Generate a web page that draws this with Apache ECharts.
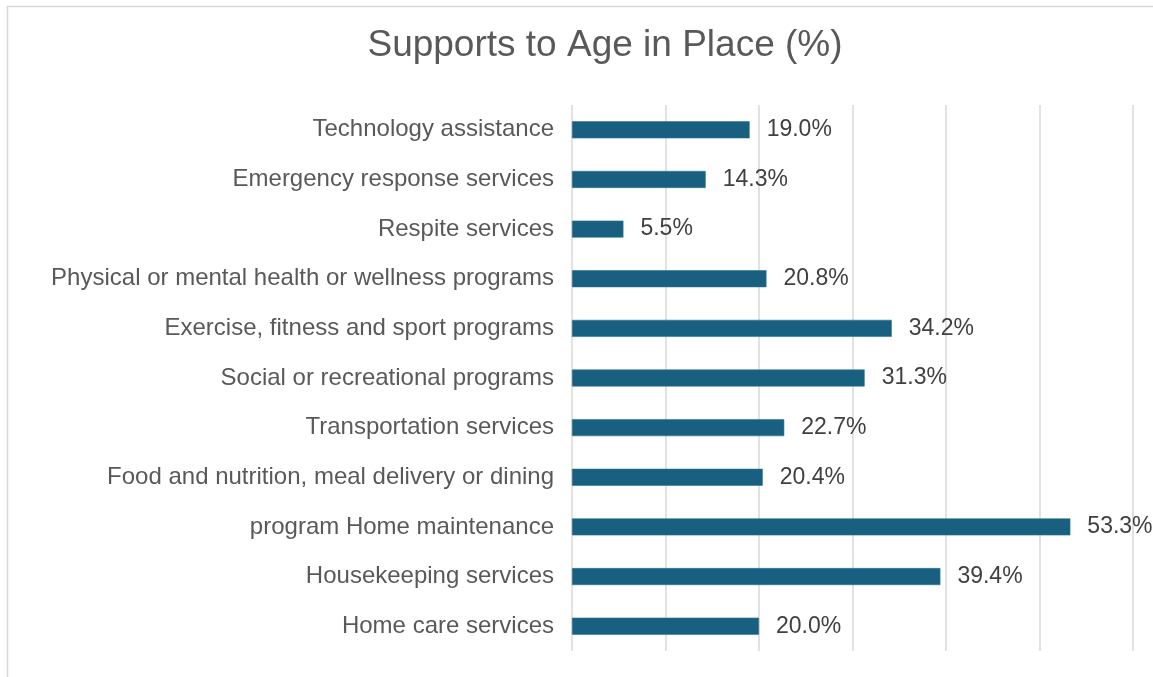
<!DOCTYPE html>
<html>
<head>
<meta charset="utf-8">
<style>
  html, body { margin: 0; padding: 0; background: #ffffff; }
  #chart { width: 1153px; height: 677px; }
</style>
<script src="https://cdn.jsdelivr.net/npm/echarts@6/dist/echarts.min.js"></script>
</head>
<body>
<div id="chart"></div>
<script>
// Categories listed bottom to top (category axis starts at the bottom)
const categories = [
  'Home care services',
  'Housekeeping services',
  'program Home maintenance',
  'Food and nutrition, meal delivery or dining',
  'Transportation services',
  'Social or recreational programs',
  'Exercise, fitness and sport programs',
  'Physical or mental health or wellness programs',
  'Respite services',
  'Emergency response services',
  'Technology assistance'
];
const percentages = [20.0, 39.4, 53.3, 20.4, 22.7, 31.3, 34.2, 20.8, 5.5, 14.3, 19.0];
const titleText = 'Supports to Age in Place (%)';

const chart = echarts.init(document.getElementById('chart'));
chart.setOption({
  animation: false,
  backgroundColor: '#ffffff',
  textStyle: { fontFamily: 'Liberation Sans, Arial, sans-serif' },
  graphic: [{
    type: 'rect',
    shape: { x: 7.5, y: 6.5, width: 1160, height: 690 },
    style: { fill: 'none', stroke: '#d9d9d9', lineWidth: 1.5 },
    silent: true
  }],
  title: {
    text: titleText,
    left: 600,
    top: 22,
    textAlign: 'center',
    textStyle: { fontSize: 37, fontWeight: 'normal', color: '#595959', fontFamily: 'Liberation Sans, Arial, sans-serif' }
  },
  grid: { left: 572, right: 20, top: 105, bottom: 26, containLabel: false },
  xAxis: {
    type: 'value',
    min: 0,
    max: 60,
    interval: 10,
    axisLabel: { show: false },
    axisLine: { show: false },
    axisTick: { show: false },
    splitLine: { show: true, lineStyle: { color: '#d9d9d9', width: 1.5 } }
  },
  yAxis: {
    type: 'category',
    data: categories,
    axisLine: { show: false },
    axisTick: { show: false },
    axisLabel: { fontSize: 24, color: '#595959', margin: 18, padding: [0, 0, 6, 0] }
  },
  series: [{
    type: 'bar',
    data: percentages,
    barWidth: 17,
    itemStyle: { color: '#185f80', borderColor: '#2f7396', borderWidth: 0.6 },
    label: {
      show: true,
      position: 'right',
      distance: 17,
      fontSize: 23,
      color: '#404040',
      padding: [0, 0, 4, 0],
      formatter: p => p.value.toFixed(1) + '%'
    }
  }]
});
</script>
</body>
</html>
